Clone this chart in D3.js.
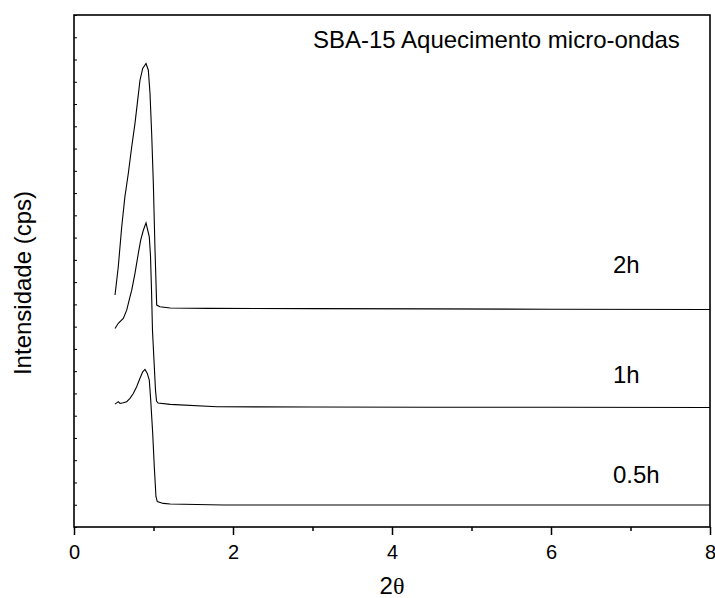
<!DOCTYPE html>
<html>
<head>
<meta charset="utf-8">
<script src="https://cdn.jsdelivr.net/npm/d3@7"></script>
<style>
  body { margin: 0; background: #fff; }
  svg { display: block; }
  text { font-family: Arial, "Liberation Sans", sans-serif; fill: #000; }
</style>
</head>
<body>
<div id="chart"></div>
<script>
// XRD patterns, SBA-15 microwave heating (intensity in arbitrary cps)
const series = ["0.5h", "1h", "2h"];

const theta05 = [0.516, 0.557, 0.579, 0.62, 0.663, 0.704, 0.746, 0.788, 0.83, 0.864, 0.893, 0.922, 0.947, 0.965, 0.99, 1.01, 1.031, 1.048, 1.123, 1.21, 1.88, 3.0, 4.5, 6.0, 8.0];
const int05   = [552, 563, 555, 558, 563, 578, 600, 630, 668, 697, 708, 690, 660, 570, 420, 271, 136, 114, 106, 103, 99, 99, 99, 99, 99];

const theta1 = [0.516, 0.557, 0.62, 0.663, 0.704, 0.726, 0.767, 0.809, 0.839, 0.872, 0.906, 0.947, 0.962, 0.975, 0.987, 1.006, 1.025, 1.038, 1.057, 1.21, 1.8, 3.0, 4.5, 6.0, 8.0];
const int1   = [892, 915, 937, 974, 1034, 1064, 1139, 1229, 1289, 1333, 1366, 1303, 1221, 1064, 885, 750, 615, 566, 557, 551, 540, 539, 538, 538, 537];

const theta2 = [0.516, 0.557, 0.60, 0.64, 0.683, 0.726, 0.767, 0.796, 0.83, 0.864, 0.906, 0.935, 0.956, 0.977, 0.998, 1.019, 1.04, 1.08, 1.21, 1.7, 3.0, 4.5, 6.0, 8.0];
const int2   = [1042, 1169, 1348, 1483, 1588, 1708, 1813, 1902, 2007, 2060, 2082, 2052, 1947, 1768, 1543, 1244, 997, 989, 984, 982, 981, 980, 978, 977];

const xMajorTicks = [0, 2, 4, 6, 8];
const xMinorTicks = [1, 3, 5, 7];
const yTicks = d3.range(0, 2301, 100);

const title = "SBA-15 Aquecimento micro-ondas";
const yLabel = "Intensidade (cps)";

const width = 715, height = 598;
const margin = { top: 15, right: 5, bottom: 71, left: 74 };
const innerWidth = width - margin.left - margin.right;
const innerHeight = height - margin.top - margin.bottom;

const svg = d3.select("#chart").append("svg")
    .attr("width", width)
    .attr("height", height);

const g = svg.append("g")
    .attr("transform", `translate(${margin.left},${margin.top})`);

const x = d3.scaleLinear().domain([0, 8]).range([0, innerWidth]);
const y = d3.scaleLinear().domain([0, 2300]).range([innerHeight, 0]);

// Curves
const line = d3.line()
    .x(d => x(d[0]))
    .y(d => y(d[1]));

const curves = [
    { name: series[0], pts: d3.zip(theta05, int05), labelY: 483 },
    { name: series[1], pts: d3.zip(theta1, int1), labelY: 383 },
    { name: series[2], pts: d3.zip(theta2, int2), labelY: 273 }
];

g.selectAll(".curve")
    .data(curves)
    .enter()
    .append("path")
    .attr("class", "curve")
    .attr("d", d => line(d.pts))
    .attr("fill", "none")
    .attr("stroke", "#000")
    .attr("stroke-width", 1.1);

// Curve labels
svg.selectAll(".clabel")
    .data(curves)
    .enter()
    .append("text")
    .attr("class", "clabel")
    .attr("x", 613)
    .attr("y", d => d.labelY)
    .attr("font-size", "24px")
    .text(d => d.name);

// Bottom axis: major and minor ticks
const xAxis = g.append("g")
    .attr("transform", `translate(0,${innerHeight})`)
    .call(d3.axisBottom(x).tickValues(xMajorTicks).tickSize(8).tickFormat(d3.format("d")));
xAxis.select(".domain").remove();
xAxis.selectAll("line").attr("stroke-width", 1.5);
xAxis.selectAll("text")
    .attr("font-size", "20px")
    .attr("font-family", "Arial, 'Liberation Sans', sans-serif")
    .attr("dy", "1.05em");

g.append("g")
    .attr("transform", `translate(0,${innerHeight})`)
    .call(d3.axisBottom(x).tickValues(xMinorTicks).tickSize(4))
    .call(a => a.select(".domain").remove())
    .call(a => a.selectAll("text").remove())
    .selectAll("line").attr("stroke-width", 1.5);

// Left axis: small inward ticks, no labels
g.append("g")
    .call(d3.axisLeft(y).tickValues(yTicks).tickSize(-3))
    .call(a => a.select(".domain").remove())
    .call(a => a.selectAll("text").remove())
    .selectAll("line").attr("stroke-width", 1);

// Frame
g.append("rect")
    .attr("width", innerWidth)
    .attr("height", innerHeight)
    .attr("fill", "none")
    .attr("stroke", "#000")
    .attr("stroke-width", 1.6);

// Title inside plot
svg.append("text")
    .attr("x", 313)
    .attr("y", 48)
    .attr("font-size", "24px")
    .text(title);

// Axis labels
const xl = svg.append("text")
    .attr("x", margin.left + innerWidth / 2)
    .attr("y", 594)
    .attr("text-anchor", "middle")
    .attr("font-size", "24px");
xl.append("tspan").text("2");
xl.append("tspan").attr("font-family", "'Liberation Serif', 'DejaVu Serif', serif").attr("font-size", "24px").text("θ");

svg.append("text")
    .attr("transform", `translate(31,${283}) rotate(-90)`)
    .attr("text-anchor", "middle")
    .attr("font-size", "24px")
    .text(yLabel);
</script>
</body>
</html>
